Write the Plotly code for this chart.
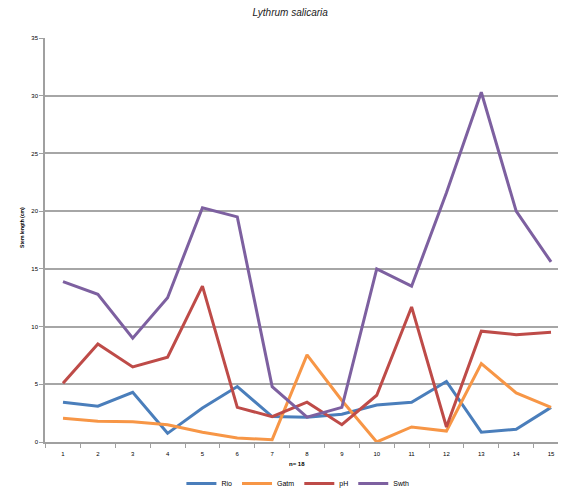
import plotly.graph_objects as go

categories = list(range(1, 16))
tick_labels = [str(c) for c in categories]

series_names = ["Rio", "Gatm", "pH", "Swth"]
blue_vals = [3.45, 3.1, 4.3, 0.75, 2.95, 4.8, 2.2, 2.15, 2.4, 3.2, 3.45, 5.25, 0.85, 1.1, 3.0]
orange_vals = [2.05, 1.8, 1.75, 1.5, 0.85, 0.35, 0.2, 7.55, 3.6, 0.0, 1.3, 0.95, 6.8, 4.25, 3.0]
red_vals = [5.1, 8.5, 6.5, 7.35, 13.5, 3.0, 2.2, 3.45, 1.5, 4.05, 11.7, 1.3, 9.6, 9.3, 9.5]
purple_vals = [13.9, 12.8, 9.0, 12.5, 20.3, 19.5, 4.8, 2.15, 3.0, 15.0, 13.5, 21.6, 30.3, 20.0, 15.6]

colors = ["#4a7ebb", "#f79646", "#be4b48", "#7d60a0"]
all_vals = [blue_vals, orange_vals, red_vals, purple_vals]

fig = go.Figure()
for name, vals, col in zip(series_names, all_vals, colors):
    fig.add_trace(go.Scatter(x=categories, y=vals, mode="lines", name=name,
                             line=dict(color=col, width=3)))

fig.update_layout(
    template="none",
    width=550, height=483,
    margin=dict(l=37, r=0, t=30, b=49, autoexpand=False),
    paper_bgcolor="white", plot_bgcolor="white",
    font=dict(family="Liberation Sans, Arial", color="#000000"),
    title=dict(text="Lythrum salicaria", x=0.513, xanchor="center", y=0.99, yanchor="middle",
               font=dict(size=10, color="#222222", style="italic")),
    showlegend=True,
    legend=dict(orientation="h", x=0.493, xanchor="center", y=-0.067, yanchor="top",
                font=dict(size=7), bgcolor="rgba(0,0,0,0)", tracegroupgap=0),
    xaxis=dict(range=[0.4837, 15.2], tickmode="array", tickvals=categories, ticktext=tick_labels,
               automargin=False, ticklabeloverflow="allow", ticklabelstandoff=5,
               showgrid=False, showline=True, linecolor="#a0a0a0", linewidth=1.5,
               ticks="", tickfont=dict(size=6), zeroline=False,
               minor=dict(ticks="outside", tick0=0.5, dtick=1, ticklen=4, tickcolor="#a0a0a0", tickwidth=1, showgrid=False)),
    yaxis=dict(range=[0, 35], tickmode="linear", tick0=0, dtick=5, automargin=False,
               showgrid=True, gridcolor="#a6a6a6", gridwidth=1.5,
               showline=True, linecolor="#a0a0a0", linewidth=1.5,
               ticks="outside", ticklen=4, tickcolor="#a0a0a0", tickfont=dict(size=6),
               zeroline=False),
    annotations=[
        dict(text="<b>n= 18</b>", xref="paper", yref="paper", x=0.491, y=-0.054,
             xanchor="center", yanchor="middle", showarrow=False, font=dict(size=6)),
        dict(text="<b>Stem length (cm)</b>", xref="paper", yref="paper", x=-0.0448, y=0.53,
             xanchor="center", yanchor="middle", textangle=-90, showarrow=False, font=dict(size=5)),
    ],
)

fig.write_html("out.html")
